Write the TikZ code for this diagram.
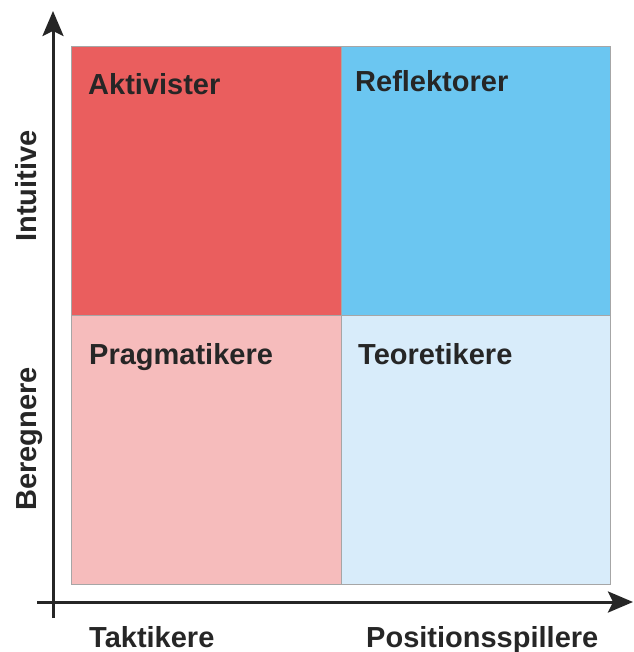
\documentclass[tikz,border=0pt]{standalone}
\usepackage{fontspec}
\setmainfont{Liberation Sans}
\usepackage{tikz}
\usetikzlibrary{arrows.meta}
\definecolor{aktred}{HTML}{EA5E5E}
\definecolor{refblue}{HTML}{6BC6F1}
\definecolor{pragpink}{HTML}{F6BCBC}
\definecolor{teoblue}{HTML}{D8ECFA}
\definecolor{labelgray}{HTML}{262626}
\tikzstyle{arrow} = [line width=3pt,draw=labelgray,-{Stealth[length=25pt,width=21pt,inset=5pt]}]
\tikzstyle{quad} = [draw=gray!70,line width=0.8pt]

\begin{document}
\begin{tikzpicture}[x=1pt,y=-1pt,every node/.style={font=\fontsize{29}{35}\selectfont\bfseries, text=labelgray, inner sep=0pt}]
        \useasboundingbox (0,0) rectangle (633,652);

        % Quadrants
        \filldraw[quad,fill=aktred] (71,46) rectangle (341,315);
        \filldraw[quad,fill=refblue] (341,46) rectangle (610,315);
        \filldraw[quad,fill=pragpink] (71,315) rectangle (341,584);
        \filldraw[quad,fill=teoblue] (341,315) rectangle (610,584);

        \node[anchor=base west] (akt) at (88,95) {Aktivister};
        \node[anchor=base west] (ref) at (355,92) {Reflektorer};
        \node[anchor=base west] (prag) at (89,364) {Pragmatikere};
        \node[anchor=base west] (teo) at (358,364) {Teoretikere};

        % Axes
        \coordinate (ybot) at (53,618);
        \coordinate (ytop) at (53,11);
        \coordinate (xleft) at (37,602);
        \coordinate (xright) at (633,602);
        \draw[arrow] (ybot) -- (ytop);
        \draw[arrow] (xleft) -- (xright);

        \node[anchor=base west] (tak) at (89,647) {Taktikere};
        \node[anchor=base west] (pos) at (366,647) {Positionsspillere};
        \node[anchor=base, rotate=90] (int) at (36,186) {Intuitive};
        \node[anchor=base, rotate=90] (ber) at (36,439) {Beregnere};
      \end{tikzpicture}
\end{document}
